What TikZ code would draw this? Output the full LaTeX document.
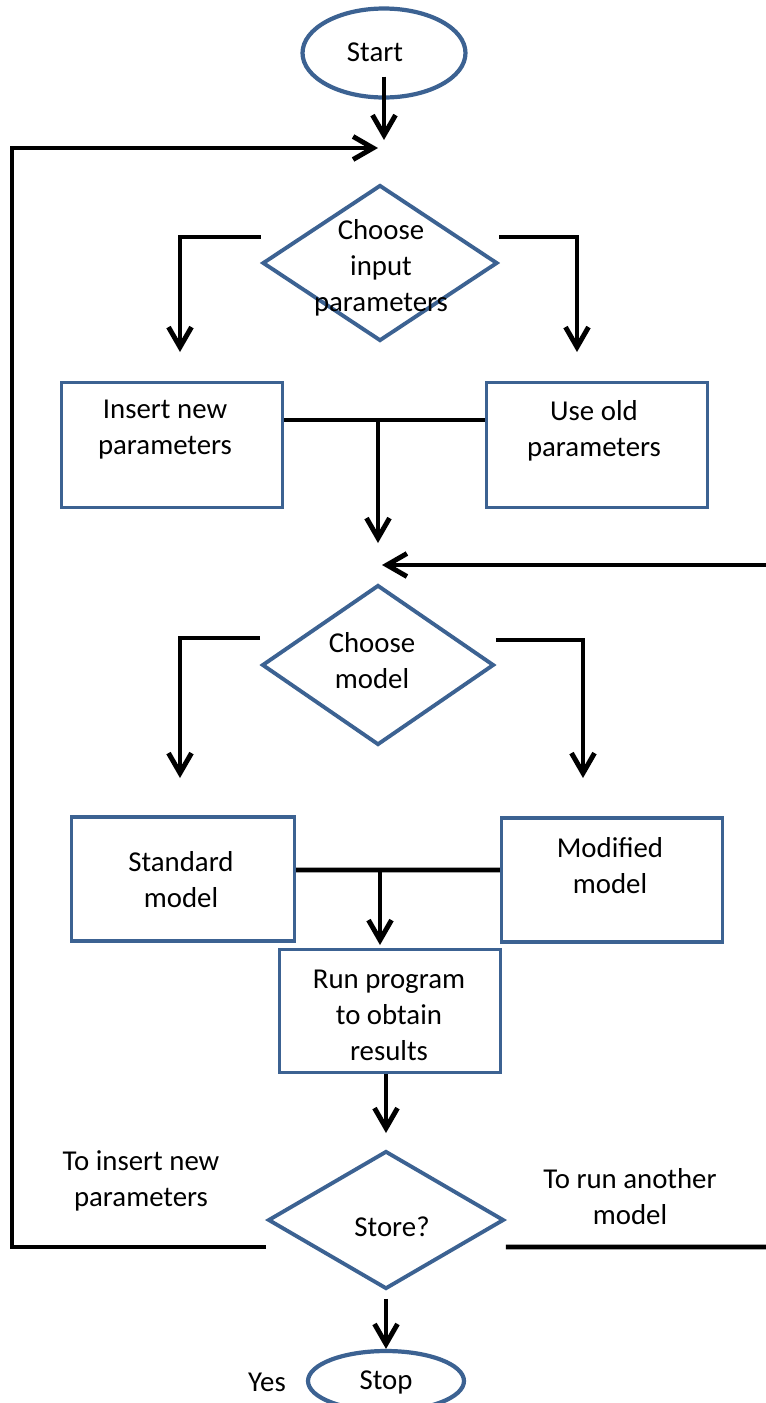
\documentclass[tikz,border=0pt]{standalone}
\usepackage{fontspec}
\setmainfont{Carlito}
\usepackage{xcolor}
\usetikzlibrary{shapes.geometric,arrows.meta}
\definecolor{shapeblue}{RGB}{60,98,146}
\tikzset{
	line/.style={draw=black, line width=2.8pt},
	flow/.style={line, -{Straight Barb[length=0.4cm,width=0.46cm]}},
	procbox/.style={rectangle, draw=shapeblue, line width=1.8pt, inner sep=0pt, minimum width=4.42cm, minimum height=2.5cm},
	decision/.style={diamond, draw=shapeblue, line width=2.2pt, inner sep=0pt},
	terminal/.style={ellipse, draw=shapeblue, line width=2.4pt, inner sep=0pt},
	txt/.style={align=center, inner sep=0pt, font=\fontsize{16.4}{20.5}\selectfont}
}

\begin{document}
\begin{tikzpicture}[x=0.02cm, y=-0.02cm]
	\useasboundingbox (0,0) rectangle (766,1403);
	%
	%start
	\node[terminal, minimum width=3.26cm, minimum height=1.78cm] (start) at (384,53) {};
	\node[txt] (starttxt) at (375,52) {Start};
	%
	%input parameters
	\node[decision, minimum width=4.7cm, minimum height=3.12cm] (cin) at (380,263) {};
	\node[txt] (cintxt) at (381,268) {Choose\\input\\parameters};
	\node[procbox] (insbox) at (172,445) {};
	\node[txt] (instxt) at (165,430) {Insert new\\parameters};
	\node[procbox] (usebox) at (597,445) {};
	\node[txt] (usetxt) at (594,431) {Use old\\parameters};
	%
	%model
	\node[decision, minimum width=4.64cm, minimum height=3.2cm] (cmod) at (378,665) {};
	\node[txt] (cmodtxt) at (372,661) {Choose\\model};
	\node[procbox, minimum width=4.46cm, minimum height=2.48cm] (stdbox) at (183,879) {};
	\node[txt] (stdtxt) at (181,880) {Standard\\model};
	\node[procbox, minimum height=2.48cm] (modbox) at (612,880) {};
	\node[txt] (modtxt) at (610,866) {Modified\\model};
	%
	%run and store
	\node[procbox, minimum height=2.46cm] (run) at (390,1011) {};
	\node[txt] (runtxt) at (389,1015) {Run program\\to obtain\\results};
	\node[decision, minimum width=4.72cm, minimum height=2.76cm] (store) at (386,1220) {};
	\node[txt] (storetxt) at (392,1227) {Store?};
	\node[terminal, minimum width=3.12cm, minimum height=1.2cm] (stop) at (386,1381) {};
	\node[txt] (stoptxt) at (386,1382) {Stop};
	%
	%side labels
	\node[txt] (backtxt) at (141,1181) {To insert new\\parameters};
	\node[txt] (othertxt) at (630,1197) {To run another\\model};
	\node[txt] (yestxt) at (267,1382) {Yes};
	%
	%free ends
	\coordinate (startin) at (384,140);
	\coordinate (loopin) at (378,148);
	\coordinate (loopcorner) at (12,148);
	\coordinate (insin) at (180,352);
	\coordinate (usein) at (577,352);
	\coordinate (join1) at (378,420);
	\coordinate (midin) at (378,543);
	\coordinate (retout) at (766,565);
	\coordinate (retin) at (382,565);
	\coordinate (stdin) at (180,778);
	\coordinate (modin) at (583,778);
	\coordinate (join2) at (380,870);
	\coordinate (runin) at (380,945);
	\coordinate (storein) at (386,1133);
	\coordinate (storeout) at (766,1247);
	%
	%connectors
	\draw[flow] ([yshift=0.46cm]start.south) -- (startin);
	\draw[flow] ([yshift=0.52cm]cin.west) -| (insin);
	\draw[flow] ([yshift=0.52cm]cin.east) -| (usein);
	\draw[line] ([yshift=0.5cm]insbox.east) -- ([yshift=0.5cm]usebox.west);
	\draw[flow] (join1) -- (midin);
	\draw[flow] (retout) -- (retin);
	\draw[flow] ([yshift=0.54cm]cmod.west) -| (stdin);
	\draw[flow] ([yshift=0.5cm]cmod.east) -| (modin);
	\draw[line] ([yshift=0.18cm]stdbox.east) -- ([yshift=0.2cm]modbox.west);
	\draw[flow] (join2) -- (runin);
	\draw[flow] (run.south -| storein) -- (storein);
	\draw[flow] ([yshift=-0.16cm]store.south) -- (stop.north);
	\draw[flow] ([yshift=-0.54cm]store.west) -| (loopcorner) -- (loopin);
	\draw[line] ([yshift=-0.54cm]store.east) -- (storeout);
\end{tikzpicture}
\end{document}
